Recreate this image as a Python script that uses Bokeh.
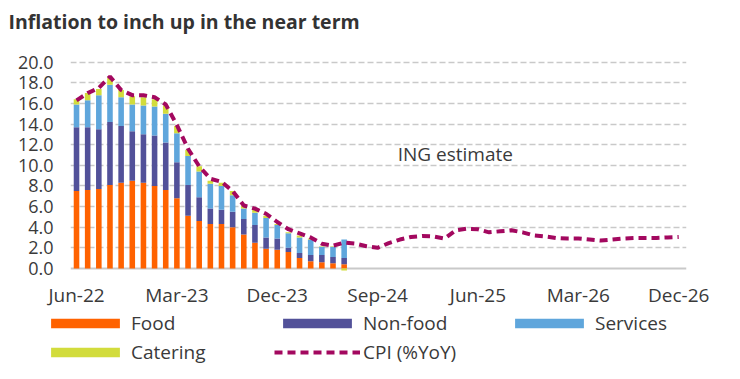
import numpy as np
from bokeh.plotting import figure
from bokeh.layouts import column
from bokeh.models import (Range1d, FixedTicker, Span, Legend, LegendItem, Label,
                          NumeralTickFormatter)
from bokeh.embed import file_html
from bokeh.resources import INLINE

# month index: 0 = Jun-22 ... 54 = Dec-26
x_tick_pos = [0, 9, 18, 27, 36, 45, 54]
x_tick_labels = ["Jun-22", "Mar-23", "Dec-23", "Sep-24", "Jun-25", "Mar-26", "Dec-26"]
y_ticks = [0, 2, 4, 6, 8, 10, 12, 14, 16, 18, 20]

food = [7.5, 7.6, 7.7, 8.1, 8.3, 8.5, 8.3, 8.0, 7.6, 6.8, 5.1, 4.6, 4.3, 4.3, 4.0,
        3.3, 2.5, 1.9, 1.8, 1.6, 1.0, 0.7, 0.6, 0.5, 0.4]
nonfood = [6.2, 6.1, 5.8, 6.1, 5.5, 4.8, 4.7, 4.9, 4.6, 3.5, 3.0, 2.3, 1.5, 1.4, 1.5,
           1.5, 1.7, 1.1, 1.1, 0.4, 0.5, 0.6, 0.7, 0.6, 0.6]
services = [2.2, 2.6, 3.3, 3.6, 2.8, 2.6, 2.8, 2.8, 2.8, 2.8, 2.8, 2.5, 2.4, 2.3, 1.6,
            1.0, 1.2, 1.9, 1.3, 1.4, 1.5, 1.5, 0.8, 1.0, 1.8]
catering = [0.5, 0.7, 0.6, 0.7, 0.7, 0.8, 0.8, 0.7, 0.8, 0.7, 0.6, 0.5, 0.3, 0.3, 0.4,
            0.3, 0.3, 0.2, 0.1, 0.1, 0.2, 0.1, 0.05, 0.05, -0.2]
cpi = [16.3, 17.0, 17.5, 18.6, 17.3, 16.8, 16.8, 16.6, 15.9, 13.9, 11.6, 9.9, 8.7, 8.4, 7.5,
       6.1, 5.8, 5.3, 4.5, 3.8, 3.4, 3.0, 2.4, 2.2, 2.5,
       2.4, 2.15, 2.0, 2.45, 2.8, 3.05, 3.15, 3.1, 2.9, 3.7, 3.85, 3.8, 3.5, 3.6, 3.7,
       3.5, 3.2, 3.1, 2.95, 2.9, 2.9, 2.8, 2.7, 2.8, 2.9, 2.95, 2.95, 2.95, 3.0, 3.05]

series_names = ["Food", "Non-food", "Services", "Catering"]
series_colors = ["#FF6200", "#525199", "#5FA6DC", "#D2DC3C"]
cpi_name = "CPI (%YoY)"
cpi_color = "#A3085F"
text_color = "#3A3A3A"
grid_color = "#C9C9C9"
FONT = "Open Sans"

# ---------------- main chart ----------------
p = figure(width=740, height=310, output_backend="svg", toolbar_location=None,
           x_range=Range1d(-0.54, 54.7), y_range=Range1d(-0.3, 22.2),
           min_border_left=70, min_border_right=54, min_border_top=37, min_border_bottom=39)
p.frame_align = False
p.outline_line_color = None
p.background_fill_color = "white"
p.border_fill_color = "white"

p.title.text = "Inflation to inch up in the near term"
p.title.text_font = FONT
p.title.text_font_style = "bold"
p.title.text_font_size = "19.5px"
p.title.text_color = "#333333"
p.title.align = "left"
p.title.offset = -62
p.title.standoff = 10

# grid
p.xgrid.grid_line_color = None
p.ygrid.ticker = FixedTicker(ticks=y_ticks[1:])
p.ygrid.grid_line_color = grid_color
p.ygrid.grid_line_width = 1.6
p.ygrid.grid_line_dash = "6 3"

# axes
p.yaxis.ticker = FixedTicker(ticks=y_ticks)
p.yaxis.formatter = NumeralTickFormatter(format="0.0")
p.xaxis.ticker = FixedTicker(ticks=x_tick_pos)
p.xaxis.major_label_overrides = {t: l for t, l in zip(x_tick_pos, x_tick_labels)}
for ax in (p.xaxis, p.yaxis):
    ax.axis_line_color = None
    ax.major_tick_line_color = None
    ax.minor_tick_line_color = None
    ax.major_tick_out = 0
    ax.major_label_text_font = FONT
    ax.major_label_text_color = text_color
p.yaxis.major_label_text_font_size = "18px"
p.xaxis.major_label_text_font_size = "19px"
p.yaxis.major_label_standoff = 17
p.xaxis.major_label_standoff = 10

p.add_layout(Span(location=0, dimension="width", line_color=grid_color,
                  line_width=2, level="underlay"))

# stacked bars (positive parts stack up, negative parts stack down)
xs = np.arange(len(food))
pos = np.zeros(len(food))
neg = np.zeros(len(food))
for vals, color in zip([food, nonfood, services, catering], series_colors):
    v = np.array(vals, dtype=float)
    bottom = np.where(v >= 0, pos, neg)
    top = bottom + v
    pos = np.where(v >= 0, top, pos)
    neg = np.where(v < 0, top, neg)
    p.vbar(x=xs, bottom=bottom, top=top, width=0.5, fill_color=color,
           line_color=color, line_width=0)

p.line(np.arange(len(cpi)), cpi, line_color=cpi_color, line_width=4, line_dash="8 5")

p.add_layout(Label(x=28.8, y=11.05, text="ING estimate", text_font=FONT,
                   text_font_size="19px", text_color=text_color, text_baseline="middle"))

# ---------------- legend strip ----------------
lg = figure(width=740, height=69, output_backend="svg", toolbar_location=None,
            x_range=Range1d(0, 1), y_range=Range1d(0, 1),
            x_axis_location=None, y_axis_location=None, min_border=0)
lg.frame_align = False
lg.outline_line_color = None
lg.xgrid.grid_line_color = None
lg.ygrid.grid_line_color = None

# legend-only glyphs: a single point placed outside the visible range
items = []
for n, color in zip(series_names, series_colors):
    r = lg.vbar(x=[-5], top=[-5], width=0.5, fill_color=color, line_color=color,
                line_width=0)
    items.append(LegendItem(label=n, renderers=[r]))
lr = lg.line(x=[-5, -4], y=[-5, -5], line_color=cpi_color, line_width=4, line_dash="8 5")
items.append(LegendItem(label=cpi_name, renderers=[lr]))

legend = Legend(items=items, location=(42, 14), orientation="horizontal", ncols=3,
                glyph_width=86, glyph_height=12, label_standoff=3, label_width=140,
                label_height=20, spacing=3, padding=0, margin=0,
                border_line_color=None, background_fill_alpha=0,
                label_text_font=FONT, label_text_font_size="19px",
                label_text_color=text_color)
lg.add_layout(legend, "center")

layout = column(p, lg, spacing=0)
open("out.html", "w").write(file_html(layout, INLINE))
